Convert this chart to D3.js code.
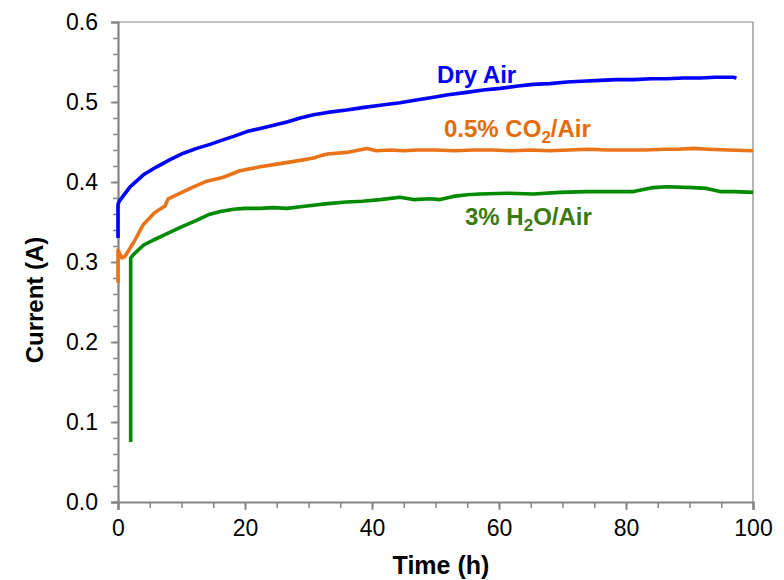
<!DOCTYPE html>
<html>
<head>
<meta charset="utf-8">
<script src="https://cdn.jsdelivr.net/npm/d3@7"></script>
<style>
  html, body { margin: 0; padding: 0; background: #fff; }
  svg { display: block; font-family: Arial, "Liberation Sans", sans-serif; }
</style>
</head>
<body>
<svg id="chart" width="784" height="580"></svg>
<script>
// Current vs. time under three atmospheres
const dryTime = [0, 0, 0.2, 1.9, 4, 6.1, 8.2, 10.3, 12.4, 14.5, 16.3, 18.2, 20.3, 22.4, 24.5, 26.6, 28.7, 30.8, 33, 36, 38.5, 41.3, 44.4, 46.5, 49.7, 52, 54.9, 57.5, 60.2, 63, 65.4, 68, 70.7, 73, 75.9, 78.5, 81.2, 84, 86.4, 89, 91.7, 94, 96.9, 97.4];
const dryCurrent = [0.330, 0.372, 0.376, 0.394, 0.409, 0.419, 0.428, 0.436, 0.442, 0.447, 0.452, 0.457, 0.463, 0.467, 0.471, 0.475, 0.480, 0.484, 0.487, 0.490, 0.493, 0.496, 0.499, 0.502, 0.506, 0.509, 0.512, 0.515, 0.517, 0.520, 0.522, 0.523, 0.525, 0.526, 0.527, 0.528, 0.528, 0.529, 0.529, 0.530, 0.530, 0.531, 0.531, 0.530];

const co2Time = [0, 0, 0.6, 1.1, 2.5, 4, 5.8, 7.4, 7.9, 9.8, 11.9, 14, 16.6, 19.2, 22.4, 25.5, 28.7, 30.8, 32, 33, 36, 39.2, 40.7, 42.8, 45, 47, 50, 53, 56, 59, 62, 65, 68, 71, 74, 77, 80, 83, 86, 88, 90.6, 93, 96, 100];
const co2Current = [0.274, 0.315, 0.305, 0.307, 0.325, 0.347, 0.362, 0.370, 0.379, 0.386, 0.394, 0.401, 0.406, 0.414, 0.419, 0.423, 0.427, 0.430, 0.433, 0.435, 0.437, 0.442, 0.439, 0.440, 0.439, 0.440, 0.440, 0.439, 0.440, 0.440, 0.439, 0.440, 0.439, 0.440, 0.441, 0.440, 0.440, 0.440, 0.441, 0.441, 0.442, 0.441, 0.440, 0.439];

const h2oTime = [2, 2, 2.4, 4, 5.6, 7.9, 10, 12.1, 14.2, 16.1, 18.2, 20, 22.4, 24.5, 26.6, 28.7, 30.8, 33, 36, 38.5, 41.3, 44.4, 46.5, 49.1, 50.7, 52.8, 55, 57, 61.2, 65.4, 69.6, 73.8, 78, 81.2, 84.3, 86.4, 90.6, 92.7, 94.8, 97, 100];
const h2oCurrent = [0.075, 0.305, 0.309, 0.321, 0.3275, 0.336, 0.344, 0.351, 0.359, 0.363, 0.366, 0.367, 0.367, 0.368, 0.367, 0.369, 0.371, 0.373, 0.375, 0.376, 0.378, 0.381, 0.378, 0.379, 0.378, 0.382, 0.384, 0.385, 0.386, 0.385, 0.387, 0.388, 0.388, 0.388, 0.393, 0.394, 0.393, 0.392, 0.388, 0.388, 0.387];

const xTicks = [0, 20, 40, 60, 80, 100];
const yTicks = [0.0, 0.1, 0.2, 0.3, 0.4, 0.5, 0.6];

const series = [
  { name: "dry", time: dryTime, current: dryCurrent, color: "#0000FF" },
  { name: "co2", time: co2Time, current: co2Current, color: "#EA7317" },
  { name: "h2o", time: h2oTime, current: h2oCurrent, color: "#008A00" }
];

const W = 784, H = 580;
const margin = { top: 22, right: 31, bottom: 78, left: 118 };
const iw = W - margin.left - margin.right;
const ih = H - margin.top - margin.bottom;

const svg = d3.select("#chart");
const g = svg.append("g").attr("transform", `translate(${margin.left},${margin.top})`);

const x = d3.scaleLinear().domain([0, 100]).range([0, iw]);
const y = d3.scaleLinear().domain([0, 0.6]).range([ih, 0]);

const axisColor = "#858585";

// frame: top and right edges
g.append("line").attr("x1", 0).attr("x2", iw).attr("y1", 0).attr("y2", 0)
  .attr("stroke", axisColor).attr("stroke-width", 1.2);
g.append("line").attr("x1", iw).attr("x2", iw).attr("y1", 0).attr("y2", ih)
  .attr("stroke", axisColor).attr("stroke-width", 1.2);

// minor ticks
const xMinor = d3.range(0, 100.01, 5);
const yMinor = d3.range(0, 0.6001, 0.02);

const xAxisG = g.append("g").attr("transform", `translate(0,${ih})`);
xAxisG.call(d3.axisBottom(x).tickValues(xMinor).tickSize(6).tickFormat(""));
xAxisG.call(g2 => g2.selectAll(".domain").remove());
xAxisG.selectAll("line").attr("stroke", axisColor).attr("stroke-width", 1.5);

const xMajorG = g.append("g").attr("transform", `translate(0,${ih})`);
xMajorG.call(d3.axisBottom(x).tickValues(xTicks).tickSize(8).tickPadding(10).tickFormat(d3.format("d")));
xMajorG.select(".domain").attr("stroke", axisColor).attr("stroke-width", 2.2);
xMajorG.selectAll("line").attr("stroke", axisColor).attr("stroke-width", 1.8);
xMajorG.selectAll("text").attr("font-size", 23).attr("fill", "#000")
  .attr("font-family", "Arial, 'Liberation Sans', sans-serif");

const yAxisG = g.append("g");
yAxisG.call(d3.axisLeft(y).tickValues(yMinor).tickSize(5).tickFormat(""));
yAxisG.call(g2 => g2.selectAll(".domain").remove());
yAxisG.selectAll("line").attr("stroke", axisColor).attr("stroke-width", 1.5);

const yMajorG = g.append("g");
yMajorG.call(d3.axisLeft(y).tickValues(yTicks).tickSize(7).tickPadding(13).tickFormat(d3.format(".1f")));
yMajorG.select(".domain").attr("stroke", axisColor).attr("stroke-width", 2.2);
yMajorG.selectAll("line").attr("stroke", axisColor).attr("stroke-width", 1.8);
yMajorG.selectAll("text").attr("font-size", 23).attr("fill", "#000")
  .attr("font-family", "Arial, 'Liberation Sans', sans-serif");

// data lines
const line = d3.line().x(d => x(d[0])).y(d => y(d[1]));
series.forEach(s => {
  const pts = s.time.map((t, i) => [t, s.current[i]]);
  g.append("path").datum(pts)
    .attr("fill", "none")
    .attr("stroke", s.color)
    .attr("stroke-width", 3.6)
    .attr("stroke-linejoin", "round")
    .attr("stroke-linecap", "butt")
    .attr("d", line);
});

// series labels
function label(px, py, color, parts) {
  const t = svg.append("text").attr("x", px).attr("y", py)
    .attr("fill", color).attr("font-size", 24).attr("font-weight", "bold");
  parts.forEach(p => {
    const sp = t.append("tspan").text(p.text);
    if (p.sub) sp.attr("font-size", 17).attr("dy", 6);
    else if (p.after) sp.attr("dy", -6);
  });
}
label(437, 83, "#0000FF", [{ text: "Dry Air" }]);
label(444, 137, "#E46C0A", [{ text: "0.5% CO" }, { text: "2", sub: true }, { text: "/Air", after: true }]);
label(465, 225, "#3A7A10", [{ text: "3% H" }, { text: "2", sub: true }, { text: "O/Air", after: true }]);

// axis titles
svg.append("text")
  .attr("x", 441).attr("y", 574)
  .attr("text-anchor", "middle").attr("font-size", 25).attr("font-weight", "bold")
  .text("Time (h)");
svg.append("text")
  .attr("transform", `translate(43,${margin.top + ih / 2 + 38}) rotate(-90)`)
  .attr("text-anchor", "middle").attr("font-size", 24).attr("font-weight", "bold")
  .text("Current (A)");
</script>
</body>
</html>
